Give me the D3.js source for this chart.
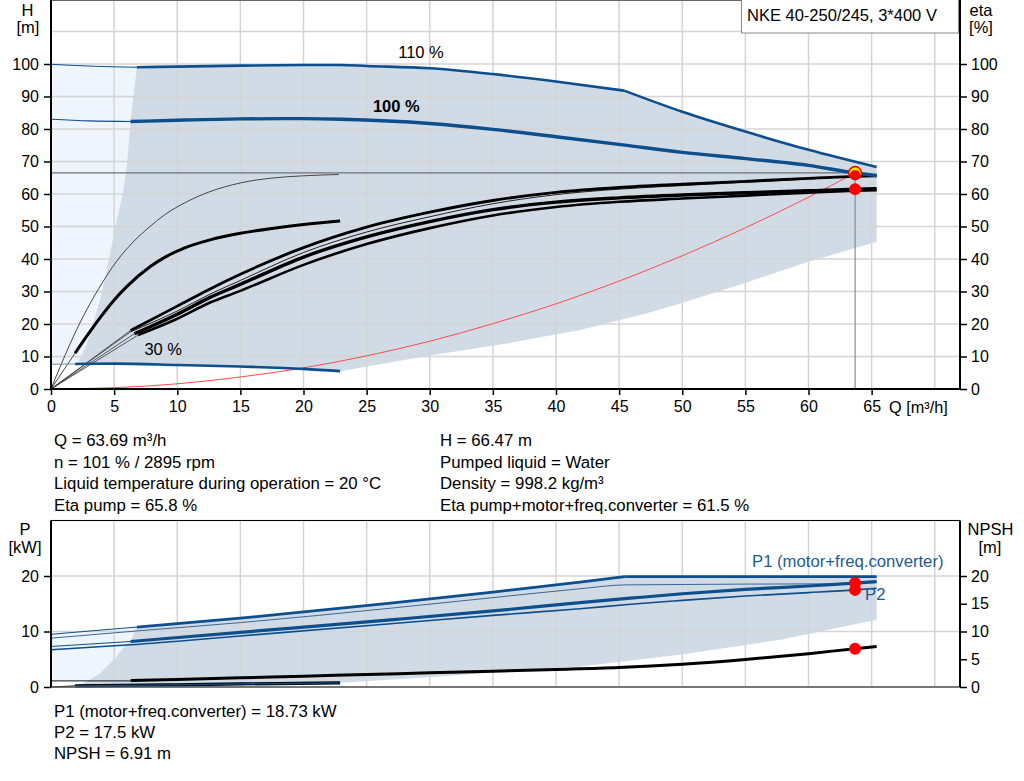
<!DOCTYPE html>
<html><head><meta charset="utf-8">
<script src="https://cdn.jsdelivr.net/npm/d3@7/dist/d3.min.js"></script>
<style>
body{margin:0;background:#fff;}
svg{display:block;font-family:"Liberation Sans",Arial,sans-serif;}
</style></head>
<body>
<svg id="c" width="1024" height="781"></svg>
<script>
// ---------------- DATA ----------------
const qTicks = [0,5,10,15,20,25,30,35,40,45,50,55,60,65];
const qGrid = [0,5,10,15,20,25,30,35,40,45,50,55,60,65,70];
const hTicks = [0,10,20,30,40,50,60,70,80,90,100];
const hGrid = [0,10,20,30,40,50,60,70,80,90,100,110,120];
const etaTicks = [0,10,20,30,40,50,60,70,80,90,100];
const pTicks = [0,10,20];
const pGrid = [0,10,20,30];
const npshTicks = [0,5,10,15,20];

// Head curves [Q m3/h, H m]
const head110Thin = [[0,99.9],[3.5,99.3],[6.8,99.0]];
const head110A = [[6.8,99.0],[10,99.2],[15,99.5],[20,99.7],[22.9,99.7],[25,99.4],[30,98.7],[35,96.9],[40,94.6],[45.4,91.8]];
const head110B = [[45.4,91.8],[50,85.3],[55,79.2],[60,73.6],[65.4,68.3]];
const head100Thin = [[0,83.0],[3,82.5],[6.3,82.3]];
const head100 = [[6.3,82.3],[10,82.7],[15,83.1],[20,83.2],[23,83.0],[30,81.7],[35,79.9],[40,77.6],[45.3,75.1],[50,72.8],[55,70.9],[60,68.8],[63.69,66.47],[65.4,65.7]];
const head30Thin = [[0,7.6],[1.9,7.7]];
const head30 = [[1.9,7.7],[5,7.8],[10,7.4],[15,6.9],[20,6.2],[22.9,5.5]];
const envLowerTop = [[65.4,45.3],[60.1,39.3],[55.1,32.8],[50.1,26.6],[47.5,23.6],[42,18.2],[36.4,14.2],[30,10.3],[22.9,5.5]];
const envLeftTop = [[1.9,7.7],[2.2,8.5],[2.85,14],[3.9,27.4],[4.6,40],[5.2,52],[5.6,58.2],[6.0,68],[6.3,82.3],[6.8,99.0]];

// Efficiency curves [Q, eta %]
const eta30Pump = [[0,0],[0.7,6.6],[1.5,13.8],[2.56,22.4],[3.8,31.0],[5.2,39.3],[6.5,45.2],[7.84,50.0],[9,53.6],[10.75,57.6],[12.5,60.6],[15,63.4],[17.5,64.9],[20,65.6],[22.8,66]];
const eta30TotLead = [[0,0],[1.9,11]];
const eta30Tot = [[1.9,11],[3,17.2],[4,22.5],[4.94,27.1],[6,31.5],[7.84,37.6],[9,40.5],[10.5,43.3],[12.6,45.9],[15,47.9],[17.5,49.4],[20,50.6],[22.9,51.7]];
const etaA = [[6.3,18.0],[10,25.5],[12.6,30.8],[15,35.3],[20,43.5],[25,49.8],[30,54.4],[35,58.0],[40,60.5],[45,62.0],[50,63.0],[55,63.9],[60,64.8],[63.69,65.4],[65.4,65.6]];
const etaB = [[6.3,17.6],[10,24.0],[12.6,29.2],[15,33.4],[20,42.0],[25,48.3],[30,53.0],[35,57.0],[40,59.8],[45,61.5],[50,62.6],[55,63.6],[60,64.6],[63.69,65.4],[65.4,65.8]];
const etaC = [[6.6,17.0],[10,23.0],[12.6,28.2],[15,32.2],[20,40.6],[25,46.8],[30,51.5],[35,55.2],[40,57.5],[45,58.8],[50,59.7],[55,60.4],[60,61.0],[63.69,61.5],[65.4,61.6]];
const etaD = [[6.9,16.6],[10,21.6],[12.6,26.6],[15,30.2],[20,38.2],[25,44.6],[30,49.5],[35,53.4],[40,56.0],[45,57.6],[50,58.6],[55,59.5],[60,60.4],[63.69,61.0],[65.4,61.2]];
const etaLeads = [[[0,0],[6.3,18.0]],[[0,0],[6.3,17.6]],[[0,0],[6.6,17.0]],[[0,0],[6.9,16.6]]];

// System curve [Q, H]
const sysCurve = [[0,0],[5,0.4],[10,1.6],[15,3.7],[20,6.5],[25,10.2],[30,14.7],[35,20.1],[40,26.2],[45,33.2],[50,41],[55,49.6],[60,59],[63.69,66.47]];

// Power curves [Q, kW]
const p1_110Thin = [[0,9.5],[6.8,10.8]];
const p1_110A = [[6.8,10.8],[15,12.4],[26.9,15.1],[35,17.1],[41.9,18.9],[45.5,19.9]];
const p1_110B = [[45.5,19.9],[65.4,19.9]];
const p2_110 = [[0,8.8],[6.8,10.1],[15,11.6],[26.9,14.2],[35,16.1],[41.9,17.7],[45.5,18.4],[63.5,18.6]];
const p1_100Thin = [[0,7.3],[6.3,8.2]];
const p1_100 = [[6.3,8.2],[15,9.85],[26.9,12.1],[35,13.7],[41.9,15.2],[45.9,16.0],[50,16.8],[55,17.6],[60,18.2],[63.69,18.73],[65.4,19.0]];
const p2_100 = [[0,6.7],[6.3,7.6],[15,9.2],[26.9,11.4],[35,12.9],[41.9,14.1],[45.9,14.9],[50,15.6],[55,16.4],[60,17.0],[63.69,17.5],[65.4,17.8]];
const p30Lead = [[0,0],[1.9,0.2]];
const p30 = [[1.9,0.2],[10,0.4],[15,0.55],[22.9,0.75]];
const envLowerBot = [[65.4,12.1],[57.8,8.5],[49.8,5.8],[41.9,3.7],[35,2.6],[30,1.75],[22.9,0.75]];
const envLeftBot = [[1.9,0.2],[2.8,0.9],[3.9,2.5],[5.2,5.5],[6.0,7.9],[6.3,8.2],[6.8,10.8]];

// NPSH [Q, m]
const npshThin = [[0,1.1],[6.3,1.1]];
const npsh = [[6.3,1.15],[10,1.35],[15,1.65],[20,1.95],[25,2.25],[30,2.55],[35,2.85],[40,3.15],[45,3.5],[50,4.1],[55,4.95],[60,6.0],[63.69,6.91],[65.4,7.3]];

// Operating point
const op = {q:63.69, h:66.47, etaPump:65.8, etaTot:61.5, p1:18.73, p2:17.5, npsh:6.91};

const infoLeft = ["Q = 63.69 m³/h","n = 101 % / 2895 rpm","Liquid temperature during operation = 20 °C","Eta pump = 65.8 %"];
const infoRight = ["H = 66.47 m","Pumped liquid = Water","Density = 998.2 kg/m³","Eta pump+motor+freq.converter = 61.5 %"];
const infoBottom = ["P1 (motor+freq.converter) = 18.73 kW","P2 = 17.5 kW","NPSH = 6.91 m"];
const title = "NKE 40-250/245, 3*400 V";

// ---------------- DRAW ----------------
const svg = d3.select("#c");
const BLUE = "#0d4e8c", FILL = "#d0dbe6", LIGHT = "#eef5fc", GRID = "#d4d4d4";
const x = d3.scaleLinear([0,72],[51,960]);
const yH = d3.scaleLinear([0,120],[389,-1]);
const yP = d3.scaleLinear([0,30],[687,520.5]);

svg.append("rect").attr("width",1024).attr("height",781).attr("fill","#fff");

function lineGen(ys, curve){ return d3.line().x(d=>x(d[0])).y(d=>ys(d[1])).curve(curve||d3.curveMonotoneX); }
function poly(ys, pts){ return d3.line().x(d=>x(d[0])).y(d=>ys(d[1]))(pts) + "Z"; }
function draw(g, ys, pts, color, w, curve){
  g.append("path").attr("d", lineGen(ys,curve)(pts)).attr("fill","none").attr("stroke",color)
   .attr("stroke-width",w).attr("stroke-linejoin","round").attr("stroke-linecap","butt");
}

// ===== TOP CHART =====
const gTop = svg.append("g");
gTop.append("path").attr("fill",LIGHT)
  .attr("d", poly(yH, [...head110Thin, [6.8,7.7], [0,7.6]]));
gTop.append("path").attr("fill",FILL)
  .attr("d", poly(yH, [...head110A, ...head110B.slice(1), ...envLowerTop, ...head30.slice().reverse(), ...envLeftTop]));
gTop.selectAll(".vg").data(qGrid).join("line").attr("x1",d=>x(d)).attr("x2",d=>x(d))
  .attr("y1",yH(120)).attr("y2",yH(0)).attr("stroke",GRID).attr("stroke-width",1.5);
gTop.selectAll(".hg").data(hGrid).join("line").attr("y1",d=>yH(d)).attr("y2",d=>yH(d))
  .attr("x1",x(0)).attr("x2",x(72)).attr("stroke",GRID).attr("stroke-width",1.5);

draw(gTop, yH, sysCurve, "#ff4a4a", 1);
gTop.append("line").attr("x1",x(0)).attr("x2",x(op.q)).attr("y1",yH(op.h)).attr("y2",yH(op.h)).attr("stroke","#707070").attr("stroke-width",1.2);
gTop.append("line").attr("x1",x(op.q)).attr("x2",x(op.q)).attr("y1",yH(op.h)).attr("y2",yH(0)).attr("stroke","#8a8a8a").attr("stroke-width",1.2);

draw(gTop, yH, eta30Pump, "#333", 0.9);
draw(gTop, yH, eta30TotLead, "#333", 0.9, d3.curveLinear);
draw(gTop, yH, eta30Tot, "#000", 3);
etaLeads.forEach(l=>draw(gTop, yH, l, "#333", 0.8, d3.curveLinear));
draw(gTop, yH, etaD, "#000", 2.6);
draw(gTop, yH, etaC, "#000", 3.4);
draw(gTop, yH, etaB, "#222", 1);
draw(gTop, yH, etaA, "#000", 2.8);

draw(gTop, yH, head110Thin, BLUE, 1);
draw(gTop, yH, head100Thin, BLUE, 1.2);
draw(gTop, yH, head30Thin, "#7a8ea5", 1);
draw(gTop, yH, head110A, BLUE, 2.6);
draw(gTop, yH, head110B, BLUE, 2.6);
draw(gTop, yH, head100, BLUE, 3.4);
draw(gTop, yH, head30, BLUE, 2.6);

gTop.append("text").attr("x",x(27.5)).attr("y",58).text("110 %").attr("font-size",16.5);
gTop.append("text").attr("x",x(25.5)).attr("y",112).text("100 %").attr("font-size",16.5).attr("font-weight","bold");
gTop.append("text").attr("x",x(7.4)).attr("y",355).text("30 %").attr("font-size",16.5);

gTop.append("circle").attr("cx",x(op.q)).attr("cy",yH(op.h)).attr("r",6.4).attr("fill","#ffe000").attr("stroke","#ff0000").attr("stroke-width",1.6);
gTop.append("circle").attr("cx",x(op.q)).attr("cy",yH(op.etaPump)).attr("r",5.2).attr("fill","#ff0000");
gTop.append("circle").attr("cx",x(op.q)).attr("cy",yH(op.etaTot)).attr("r",6).attr("fill","#ff0000");

gTop.append("line").attr("x1",x(0)).attr("x2",x(72)).attr("y1",0.5).attr("y2",0.5).attr("stroke","#666").attr("stroke-width",1);
gTop.append("line").attr("x1",x(0)).attr("x2",x(0)).attr("y1",0).attr("y2",390).attr("stroke","#000").attr("stroke-width",2);
gTop.append("line").attr("x1",x(72)).attr("x2",x(72)).attr("y1",0).attr("y2",390).attr("stroke","#000").attr("stroke-width",2);
gTop.append("line").attr("x1",x(0)-1).attr("x2",x(72)+1).attr("y1",yH(0)).attr("y2",yH(0)).attr("stroke","#000").attr("stroke-width",2);

function styleAxis(g){ g.select(".domain").remove(); g.selectAll("text").attr("font-size",16).attr("fill","#000").attr("font-family",'"Liberation Sans",Arial,sans-serif'); g.selectAll("line").attr("stroke","#000").attr("stroke-width",1.5); }
gTop.append("g").attr("transform",`translate(${x(0)},0)`).call(d3.axisLeft(yH).tickValues(hTicks).tickSize(7).tickPadding(5)).call(styleAxis);
gTop.append("g").attr("transform",`translate(${x(72)},0)`).call(d3.axisRight(yH).tickValues(etaTicks).tickSize(7).tickPadding(4)).call(styleAxis);
gTop.append("g").attr("transform",`translate(0,${yH(0)})`).call(d3.axisBottom(x).tickValues(qTicks).tickSize(6).tickPadding(6)).call(styleAxis);

gTop.append("text").attr("x",889).attr("y",413).attr("font-size",16.3).text("Q [m³/h]");
gTop.append("text").attr("x",27.5).attr("y",16).attr("font-size",16.5).attr("text-anchor","middle").text("H");
gTop.append("text").attr("x",28).attr("y",33).attr("font-size",16.5).attr("text-anchor","middle").text("[m]");
gTop.append("text").attr("x",981).attr("y",16).attr("font-size",16.5).attr("text-anchor","middle").text("eta");
gTop.append("text").attr("x",981).attr("y",33).attr("font-size",16.5).attr("text-anchor","middle").text("[%]");

gTop.append("rect").attr("x",741.5).attr("y",-1).attr("width",217).attr("height",34).attr("fill","#fff").attr("stroke","#888").attr("stroke-width",1);
gTop.append("text").attr("x",747).attr("y",21).attr("font-size",16.5).text(title);

svg.append("g").selectAll("text").data(infoLeft).join("text").attr("x",54).attr("y",(d,i)=>446+i*21.6).attr("font-size",16.8).text(d=>d);
svg.append("g").selectAll("text").data(infoRight).join("text").attr("x",440).attr("y",(d,i)=>446+i*21.6).attr("font-size",16.8).text(d=>d);
svg.append("g").selectAll("text").data(infoBottom).join("text").attr("x",54).attr("y",(d,i)=>717+i*21.2).attr("font-size",16.8).text(d=>d);

// ===== BOTTOM CHART =====
const gBot = svg.append("g");
gBot.append("path").attr("fill",LIGHT).attr("d", poly(yP, [[0,1.1],...p1_110Thin,[6.8,1.1]]));
gBot.append("path").attr("fill",FILL).attr("d", poly(yP, [...p1_110A, ...p1_110B.slice(1), ...envLowerBot, ...p30.slice().reverse(), ...envLeftBot]));
gBot.selectAll(".vg").data(qGrid).join("line").attr("x1",d=>x(d)).attr("x2",d=>x(d))
  .attr("y1",yP(30)).attr("y2",yP(0)).attr("stroke",GRID).attr("stroke-width",1.5);
gBot.selectAll(".hg").data(pGrid).join("line").attr("y1",d=>yP(d)).attr("y2",d=>yP(d))
  .attr("x1",x(0)).attr("x2",x(72)).attr("stroke",GRID).attr("stroke-width",1.5);

draw(gBot, yP, npshThin, "#111", 1, d3.curveLinear);
draw(gBot, yP, npsh, "#000", 3);
draw(gBot, yP, p30Lead, "#111", 1, d3.curveLinear);
draw(gBot, yP, p30, "#000", 3.2);
draw(gBot, yP, p30, BLUE, 1.3);
draw(gBot, yP, p1_110Thin, BLUE, 1, d3.curveLinear);
draw(gBot, yP, p2_110, "#3a6795", 1);
draw(gBot, yP, p1_110A, BLUE, 2.8);
draw(gBot, yP, p1_110B, BLUE, 2.8, d3.curveLinear);
draw(gBot, yP, p1_100Thin, BLUE, 1, d3.curveLinear);
draw(gBot, yP, p2_100, BLUE, 1.6);
draw(gBot, yP, p1_100, BLUE, 3.2);

gBot.append("circle").attr("cx",x(op.q)).attr("cy",yP(op.p1)).attr("r",6).attr("fill","#ff0000");
gBot.append("circle").attr("cx",x(op.q)).attr("cy",yP(op.p2)).attr("r",6).attr("fill","#ff0000");
gBot.append("circle").attr("cx",x(op.q)).attr("cy",yP(op.npsh)).attr("r",6).attr("fill","#ff0000");

gBot.append("text").attr("x",752).attr("y",567).attr("font-size",16.7).attr("fill","#1e5a96").text("P1 (motor+freq.converter)");
gBot.append("text").attr("x",865).attr("y",600).attr("font-size",16.7).attr("fill","#1e5a96").text("P2");

gBot.append("line").attr("x1",x(0)).attr("x2",x(72)).attr("y1",yP(30)).attr("y2",yP(30)).attr("stroke","#000").attr("stroke-width",1.2);
gBot.append("line").attr("x1",x(0)).attr("x2",x(72)).attr("y1",yP(0)).attr("y2",yP(0)).attr("stroke","#555").attr("stroke-width",1.5);
gBot.append("line").attr("x1",x(0)).attr("x2",x(0)).attr("y1",yP(30)).attr("y2",yP(0)).attr("stroke","#000").attr("stroke-width",2);
gBot.append("line").attr("x1",x(72)).attr("x2",x(72)).attr("y1",yP(30)).attr("y2",yP(0)).attr("stroke","#000").attr("stroke-width",2);

gBot.append("g").attr("transform",`translate(${x(0)},0)`).call(d3.axisLeft(yP).tickValues(pTicks).tickSize(7).tickPadding(5)).call(styleAxis);
gBot.append("g").attr("transform",`translate(${x(72)},0)`).call(d3.axisRight(yP).tickValues(npshTicks).tickSize(7).tickPadding(4)).call(styleAxis);

gBot.append("text").attr("x",25).attr("y",535).attr("font-size",16.5).attr("text-anchor","middle").text("P");
gBot.append("text").attr("x",25).attr("y",553).attr("font-size",16.5).attr("text-anchor","middle").text("[kW]");
gBot.append("text").attr("x",990.5).attr("y",535).attr("font-size",16.5).attr("text-anchor","middle").text("NPSH");
gBot.append("text").attr("x",990).attr("y",553).attr("font-size",16.5).attr("text-anchor","middle").text("[m]");
</script>
</body></html>
